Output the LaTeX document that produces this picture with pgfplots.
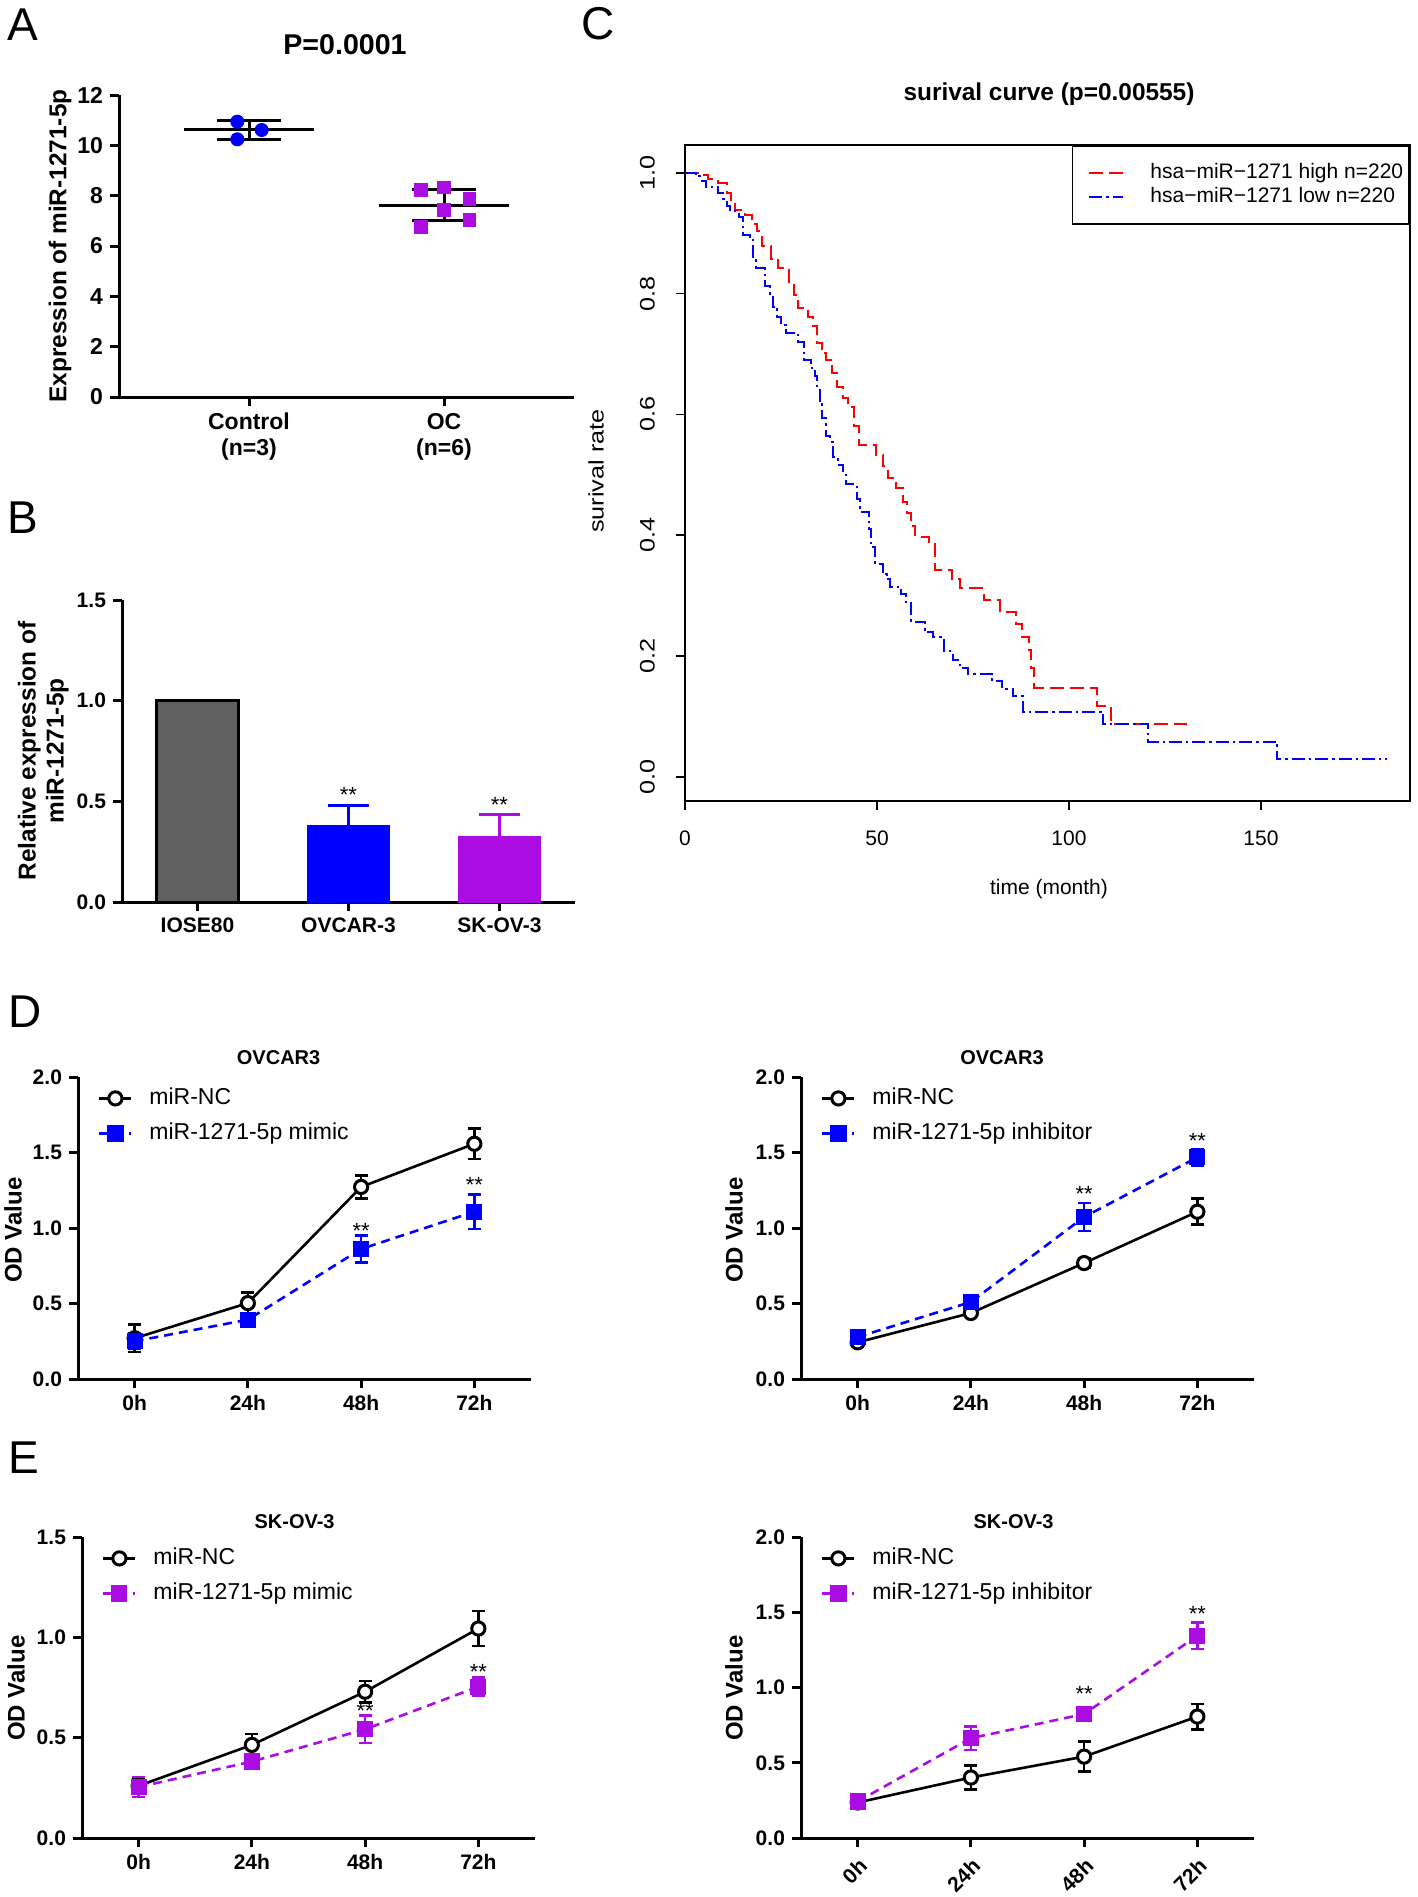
\documentclass[border=0pt]{standalone}
\usepackage{fontspec}
\setmainfont{Liberation Sans}
\usepackage{pgfplots}
\pgfplotsset{compat=1.18}

\definecolor{pp}{RGB}{170,12,225}
\definecolor{gbar}{RGB}{96,96,96}
\newcommand{\fs}[2]{\fontsize{#1}{#2}\selectfont}

\pgfplotsset{
  prism/.style={
    scale only axis, anchor=south west, clip=false,
    axis lines*=left,
    axis line style={line width=1.5pt},
    tick align=outside, major tick length=4.5pt,
    tick style={black, line width=1.5pt},
    /pgf/number format/assume math mode=true,
    tick label style={font=\bfseries\fs{10.5}{12}},
  },
  onedec/.style={yticklabel style={/pgf/number format/.cd, fixed, fixed zerofill, precision=1}},
  odax/.style={prism, onedec, width=226.5pt, height=151pt,
    xmin=-0.5, xmax=3.5, ymin=0,
    xtick={0,1,2,3}, xticklabels={0h,24h,48h,72h},
    legend style={at={(rel axis cs:0,1)}, anchor=north west, yshift=-5pt,
      draw=none, fill=none, inner sep=0pt, row sep=6.5pt,
      nodes={inner sep=0pt, text height=8.5pt, text depth=2.5pt},
      font=\fs{11.5}{13}},
    legend cell align=left,
    legend image code/.code={
      \path[draw=none, fill=none] (0pt,0pt) -- (35.5pt,0pt);
      \draw[mark repeat=2, mark phase=2, ##1] plot coordinates {(10.5pt,0pt) (18.5pt,0pt) (26.5pt,0pt)};},
  },
  nc/.style={black, line width=1.3pt, mark=*, mark size=3.3pt,
    mark options={solid, fill=white, draw=black, line width=1.5pt},
    error bars/y dir=both, error bars/y explicit,
    error bars/error bar style={line width=1.3pt, black, solid},
    error bars/error mark options={rotate=90, mark size=3.2pt, line width=1.3pt, black}},
  trt/.style={#1, line width=1.3pt, dash pattern=on 4.5pt off 3pt,
    mark=square*, mark size=3.4pt, mark options={solid, #1},
    error bars/y dir=both, error bars/y explicit,
    error bars/error bar style={line width=1.3pt, #1, solid},
    error bars/error mark options={rotate=90, mark size=3.2pt, line width=1.3pt, #1}},
}

\begin{document}
\begin{tikzpicture}
\path[use as bounding box] (0,0) rectangle (709pt,-948.5pt);

% panel letters
\node[anchor=base west, font=\fs{23}{26}, inner sep=0pt] at (3.5pt,-20pt) {A};
\node[anchor=base west, font=\fs{23}{26}, inner sep=0pt] at (3.5pt,-266.5pt) {B};
\node[anchor=base west, font=\fs{23}{26}, inner sep=0pt] at (290.5pt,-19.5pt) {C};
\node[anchor=base west, font=\fs{23}{26}, inner sep=0pt] at (4pt,-513.5pt) {D};
\node[anchor=base west, font=\fs{23}{26}, inner sep=0pt] at (4pt,-736.5pt) {E};

% ---------- A ----------
\node[font=\bfseries\fs{14.3}{16}] at (172.5pt,-22.5pt) {P=0.0001};
\node[rotate=90, font=\bfseries\fs{12.2}{14}] at (30pt,-123pt) {Expression of miR-1271-5p};
\begin{axis}[prism, at={(59.5pt,-198.5pt)}, width=227.5pt, height=151pt,
  xmin=0.3333, xmax=2.6667, ymin=0, ymax=12,
  xtick={1,2}, xticklabels={{Control\\(n=3)},{OC\\(n=6)}},
  ytick={0,2,4,6,8,10,12},
  tick label style={font=\bfseries\fs{11.5}{13}},
  xticklabel style={align=center}]
\addplot[black, line width=1.5pt] coordinates {(0.667,10.61) (1.333,10.61)};
\addplot[black, line width=1.5pt] coordinates {(1,10.25) (1,10.97)};
\addplot[black, line width=1.5pt] coordinates {(0.837,10.97) (1.163,10.97)};
\addplot[black, line width=1.5pt] coordinates {(0.837,10.25) (1.163,10.25)};
\addplot[black, line width=1.5pt] coordinates {(1.667,7.62) (2.333,7.62)};
\addplot[black, line width=1.5pt] coordinates {(2,7.0) (2,8.25)};
\addplot[black, line width=1.5pt] coordinates {(1.837,8.25) (2.163,8.25)};
\addplot[black, line width=1.5pt] coordinates {(1.837,7.0) (2.163,7.0)};
\addplot[only marks, mark=*, mark size=3.3pt, blue] coordinates {(0.94,10.94) (1.065,10.61) (0.94,10.24)};
\addplot[only marks, mark=square*, mark size=3.2pt, pp] coordinates
  {(1.88,8.23) (2.0,8.33) (2.13,7.86) (2.0,7.43) (2.13,7.04) (1.88,6.77)};
\end{axis}

% ---------- B ----------
\node[rotate=90, align=center, font=\bfseries\fs{12.2}{14}] at (21.7pt,-375.5pt) {Relative expression of\\miR-1271-5p};
\begin{axis}[prism, onedec, at={(61pt,-451pt)}, width=226.5pt, height=151pt,
  xmin=0.5, xmax=3.5, ymin=0, ymax=1.5,
  xtick={1,2,3}, xticklabels={IOSE80,OVCAR-3,SK-OV-3},
  ytick={0,0.5,1,1.5}]
\addplot[ybar, bar width=0.54, bar shift=0pt, fill=gbar, draw=black, line width=1.5pt] coordinates {(1,1.0)};
\addplot[ybar, bar width=0.54, bar shift=0pt, fill=blue, draw=blue, line width=1pt,
  error bars/y dir=plus, error bars/y explicit,
  error bars/error bar style={line width=1.5pt, blue},
  error bars/error mark options={rotate=90, mark size=10.4pt, line width=1.5pt, blue}]
  coordinates {(2,0.38) +- (0,0.098)};
\addplot[ybar, bar width=0.54, bar shift=0pt, fill=pp, draw=pp, line width=1pt,
  error bars/y dir=plus, error bars/y explicit,
  error bars/error bar style={line width=1.5pt, pp},
  error bars/error mark options={rotate=90, mark size=10.4pt, line width=1.5pt, pp}]
  coordinates {(3,0.324) +- (0,0.111)};
\node[font=\fs{11}{12}] at (axis cs:2,0.53) {**};
\node[font=\fs{11}{12}] at (axis cs:3,0.48) {**};
\end{axis}

% ---------- C ----------
\node[font=\bfseries\fs{12.2}{14}] at (524.5pt,-47pt) {surival curve (p=0.00555)};
\node[rotate=90, xscale=1.2, font=\fs{10.5}{12}] at (298pt,-235.5pt) {surival rate};
\node[font=\fs{10.5}{12}] at (524.5pt,-444.5pt) {time (month)};
\begin{axis}[scale only axis, anchor=south west, at={(342.5pt,-400.5pt)},
  width=362.5pt, height=328pt,
  xmin=0, xmax=188.8, ymin=-0.04, ymax=1.046,
  axis line style={line width=0.8pt},
  tick align=outside, tick pos=left, major tick length=4.5pt,
  tick style={black, line width=0.8pt},
  xtick={0,50,100,150}, ytick={0,0.2,0.4,0.6,0.8,1},
  /pgf/number format/assume math mode=true,
  tick label style={font=\fs{10.5}{12}},
  xticklabel style={yshift=-7pt},
  yticklabel style={rotate=90, xscale=1.2, anchor=south, yshift=7pt,
    /pgf/number format/.cd, fixed, fixed zerofill, precision=1},
  legend style={at={(rel axis cs:1,1)}, anchor=north east, draw=black, line width=0.8pt,
    fill=white, inner xsep=3pt, inner ysep=8.25pt, row sep=1.5pt,
    nodes={inner sep=0pt, text height=8pt, text depth=2.5pt},
    font=\fs{10.5}{12}},
  legend cell align=left,
  legend image code/.code={\path[draw=none, fill=none] (-5.5pt,0pt) -- (30.5pt,0pt); \draw[#1] (0pt,0pt) -- (17pt,0pt);}]
\addplot[red, line width=1pt, dash pattern=on 7pt off 3pt, const plot] coordinates {
 (0,1) (4.3,0.996) (6,0.99) (8.5,0.983) (11,0.967) (12,0.952) (13,0.939) (15.5,0.93)
 (17.4,0.916) (18.7,0.903) (20,0.878) (22.5,0.857) (24.3,0.842) (27,0.817) (28.4,0.798)
 (29.5,0.777) (32,0.762) (33.3,0.746) (34.3,0.719) (35.6,0.701) (36.7,0.69) (38.4,0.668)
 (39.7,0.646) (41.2,0.628) (42.5,0.613) (44,0.58) (45.3,0.55) (49.8,0.533) (51.6,0.514)
 (52.8,0.495) (55,0.479) (56.8,0.455) (57.7,0.437) (58.8,0.415) (60,0.397) (63.5,0.385)
 (65,0.342) (69.6,0.327) (71.7,0.312) (77.9,0.292) (82,0.273) (86.2,0.253) (87.7,0.232)
 (89.5,0.21) (90.2,0.18) (91,0.147) (107.2,0.118) (111,0.088) (130.7,0.088)};
\addlegendentry{hsa−miR−1271 high n=220}
\addplot[blue, line width=1pt, dash pattern=on 6.5pt off 2pt on 1.2pt off 2pt, const plot] coordinates {
 (0,1) (2.8,0.994) (3.9,0.987) (5.5,0.976) (8.5,0.966) (10,0.956) (11,0.945) (11.7,0.936)
 (14,0.927) (15,0.897) (16.9,0.889) (17.8,0.861) (18.5,0.842) (20.8,0.812) (22.1,0.8)
 (22.8,0.778) (24,0.762) (25,0.748) (26.3,0.734) (29.5,0.72) (31,0.69) (32.8,0.677)
 (33.9,0.663) (34.5,0.641) (35.2,0.619) (35.8,0.594) (36.7,0.564) (37.8,0.555) (38.5,0.53)
 (39.8,0.517) (41.2,0.5) (42,0.484) (44.8,0.46) (45.5,0.439) (47.8,0.41) (48.5,0.38)
 (49.5,0.352) (51.5,0.335) (52.5,0.327) (53.5,0.315) (56.2,0.302) (57.5,0.29) (58.8,0.257)
 (62.5,0.239) (64.5,0.231) (67.5,0.208) (69.8,0.193) (71.5,0.181) (73.6,0.171) (80,0.159)
 (82.6,0.146) (85.5,0.134) (88,0.108) (108.8,0.087) (120.6,0.058) (154.2,0.029) (182.8,0.029)};
\addlegendentry{hsa−miR−1271 low n=220}
\end{axis}

% ---------- D left ----------
\node[font=\bfseries\fs{10}{12}] at (139.3pt,-529pt) {OVCAR3};
\node[rotate=90, font=\bfseries\fs{12}{14}] at (6.5pt,-615pt) {OD Value};
\begin{axis}[odax, at={(39pt,-689.5pt)}, ymax=2, ytick={0,0.5,1,1.5,2}]
\addplot[nc] coordinates {(0,0.27) +- (0,0.09) (1,0.503) +- (0,0.07) (2,1.272) +- (0,0.075) (3,1.558) +- (0,0.10)};
\addlegendentry{miR-NC}
\addplot[trt=blue] coordinates {(0,0.25) +- (0,0.05) (1,0.393) +- (0,0.025) (2,0.861) +- (0,0.09) (3,1.108) +- (0,0.115)};
\addlegendentry{miR-1271-5p mimic}
\node[font=\fs{11}{12}] at (axis cs:2,0.98) {**};
\node[font=\fs{11}{12}] at (axis cs:3,1.285) {**};
\end{axis}

% ---------- D right ----------
\node[font=\bfseries\fs{10}{12}] at (501pt,-529pt) {OVCAR3};
\node[rotate=90, font=\bfseries\fs{12}{14}] at (367pt,-615pt) {OD Value};
\begin{axis}[odax, at={(400.5pt,-689.5pt)}, ymax=2, ytick={0,0.5,1,1.5,2}]
\addplot[nc] coordinates {(0,0.243) +- (0,0.02) (1,0.437) +- (0,0.02) (2,0.768) +- (0,0.03) (3,1.108) +- (0,0.086)};
\addlegendentry{miR-NC}
\addplot[trt=blue] coordinates {(0,0.278) +- (0,0.03) (1,0.51) +- (0,0.03) (2,1.073) +- (0,0.093) (3,1.468) +- (0,0.055)};
\addlegendentry{miR-1271-5p inhibitor}
\node[font=\fs{11}{12}] at (axis cs:2,1.225) {**};
\node[font=\fs{11}{12}] at (axis cs:3,1.575) {**};
\end{axis}

% ---------- E left ----------
\node[font=\bfseries\fs{10}{12}] at (147.3pt,-761pt) {SK-OV-3};
\node[rotate=90, font=\bfseries\fs{12}{14}] at (8pt,-844pt) {OD Value};
\begin{axis}[odax, at={(41pt,-919pt)}, height=150.5pt, ymax=1.5, ytick={0,0.5,1,1.5}]
\addplot[nc] coordinates {(0,0.26) +- (0,0.04) (1,0.464) +- (0,0.055) (2,0.729) +- (0,0.053) (3,1.044) +- (0,0.088)};
\addlegendentry{miR-NC}
\addplot[trt=pp] coordinates {(0,0.254) +- (0,0.05) (1,0.381) +- (0,0.035) (2,0.542) +- (0,0.068) (3,0.754) +- (0,0.045)};
\addlegendentry{miR-1271-5p mimic}
\node[font=\fs{11}{12}] at (axis cs:2,0.635) {**};
\node[font=\fs{11}{12}] at (axis cs:3,0.83) {**};
\end{axis}

% ---------- E right ----------
\node[font=\bfseries\fs{10}{12}] at (506.8pt,-761pt) {SK-OV-3};
\node[rotate=90, font=\bfseries\fs{12}{14}] at (367pt,-844pt) {OD Value};
\begin{axis}[odax, at={(400.5pt,-919pt)}, height=150.5pt, ymax=2, ytick={0,0.5,1,1.5,2},
  xticklabel style={rotate=45, anchor=north east}]
\addplot[nc] coordinates {(0,0.236) +- (0,0.04) (1,0.402) +- (0,0.078) (2,0.541) +- (0,0.1) (3,0.807) +- (0,0.084)};
\addlegendentry{miR-NC}
\addplot[trt=pp] coordinates {(0,0.243) +- (0,0.035) (1,0.663) +- (0,0.077) (2,0.824) +- (0,0.04) (3,1.344) +- (0,0.088)};
\addlegendentry{miR-1271-5p inhibitor}
\node[font=\fs{11}{12}] at (axis cs:2,0.955) {**};
\node[font=\fs{11}{12}] at (axis cs:3,1.49) {**};
\end{axis}
\end{tikzpicture}
\end{document}
